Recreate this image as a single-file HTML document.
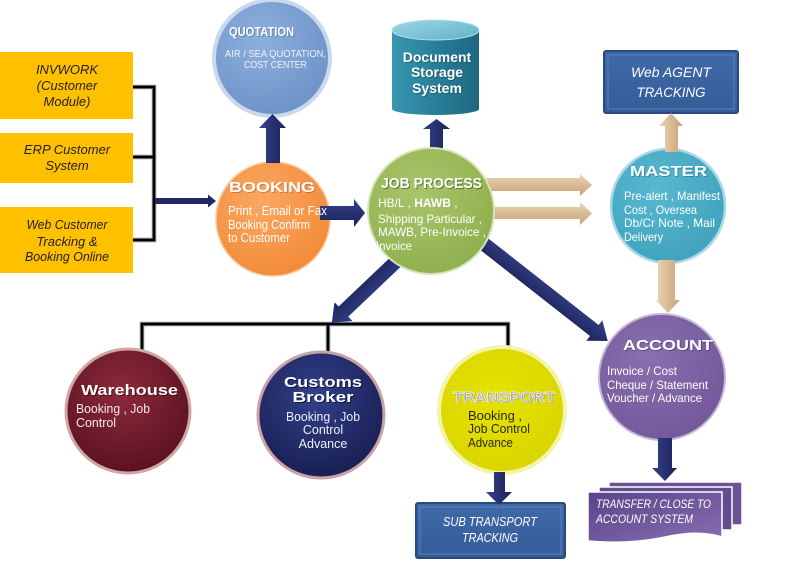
<!DOCTYPE html>
<html><head><meta charset="utf-8"><style>
html,body{margin:0;padding:0;background:#fff;}
svg{display:block;}
text{font-family:"Liberation Sans",Arial,sans-serif;}
</style></head><body>
<svg width="800" height="586" viewBox="0 0 800 586" xmlns="http://www.w3.org/2000/svg">
<defs>
<radialGradient id="gQ" cx="40%" cy="35%" r="70%"><stop offset="0" stop-color="#8db0dd"/><stop offset="1" stop-color="#6c91c6"/></radialGradient>
<radialGradient id="gB" cx="40%" cy="35%" r="70%"><stop offset="0" stop-color="#fba862"/><stop offset="1" stop-color="#f18a38"/></radialGradient>
<radialGradient id="gJ" cx="40%" cy="35%" r="70%"><stop offset="0" stop-color="#a8c56a"/><stop offset="1" stop-color="#8fb04e"/></radialGradient>
<radialGradient id="gM" cx="40%" cy="35%" r="70%"><stop offset="0" stop-color="#58b8d0"/><stop offset="1" stop-color="#40a2bd"/></radialGradient>
<radialGradient id="gA" cx="40%" cy="35%" r="70%"><stop offset="0" stop-color="#8a6fad"/><stop offset="1" stop-color="#72589a"/></radialGradient>
<radialGradient id="gW" cx="45%" cy="35%" r="70%"><stop offset="0" stop-color="#8c2a3c"/><stop offset="1" stop-color="#58101e"/></radialGradient>
<radialGradient id="gC" cx="45%" cy="35%" r="70%"><stop offset="0" stop-color="#33418c"/><stop offset="1" stop-color="#161c4e"/></radialGradient>
<radialGradient id="gT" cx="45%" cy="40%" r="70%"><stop offset="0" stop-color="#e6e200"/><stop offset="1" stop-color="#d8d300"/></radialGradient>
<linearGradient id="gN" x1="0" y1="0" x2="0" y2="1"><stop offset="0" stop-color="#34418a"/><stop offset="1" stop-color="#1c2258"/></linearGradient>
<linearGradient id="gNh" x1="0" y1="0" x2="1" y2="0"><stop offset="0" stop-color="#34418a"/><stop offset="1" stop-color="#1c2258"/></linearGradient>
<linearGradient id="gTan" x1="0" y1="0" x2="0" y2="1"><stop offset="0" stop-color="#ead4b2"/><stop offset="1" stop-color="#c6a278"/></linearGradient>
<linearGradient id="gTanH" x1="0" y1="0" x2="1" y2="0"><stop offset="0" stop-color="#ead4b2"/><stop offset="1" stop-color="#c6a278"/></linearGradient>
<linearGradient id="gCyl" x1="0" y1="0" x2="1" y2="0"><stop offset="0" stop-color="#3696b0"/><stop offset="1" stop-color="#1d6780"/></linearGradient>
<linearGradient id="gCylT" x1="0" y1="0" x2="1" y2="1"><stop offset="0" stop-color="#9ad6e6"/><stop offset="1" stop-color="#62b2c9"/></linearGradient>
<linearGradient id="gDoc" x1="0" y1="0" x2="1" y2="1"><stop offset="0" stop-color="#58448a"/><stop offset="1" stop-color="#8a6db2"/></linearGradient>
<linearGradient id="gBox" x1="0" y1="0" x2="0" y2="1"><stop offset="0" stop-color="#3f69a8"/><stop offset="1" stop-color="#355c98"/></linearGradient>
</defs>

<!-- left boxes -->
<rect x="0" y="52" width="133" height="67" fill="#ffc000"/>
<rect x="0" y="133" width="133" height="50" fill="#ffc000"/>
<rect x="0" y="207" width="133" height="66" fill="#ffc000"/>
<g font-style="italic" font-size="13" fill="#222" text-anchor="middle">
<text x="67" y="74">INVWORK</text>
<text x="67" y="90">(Customer</text>
<text x="67" y="106">Module)</text>
<text x="67" y="154">ERP Customer</text>
<text x="67" y="170">System</text>
<text x="67" y="229" textLength="81" lengthAdjust="spacingAndGlyphs">Web Customer</text>
<text x="67" y="246">Tracking &amp;</text>
<text x="67" y="261" textLength="84" lengthAdjust="spacingAndGlyphs">Booking Online</text>
</g>
<path d="M133,87 H154 V240 H133 M133,157 H154" stroke="#888" stroke-width="4.5" fill="none"/>
<path d="M133,87 H154 V240 H133 M133,157 H154" stroke="#000" stroke-width="2.5" fill="none"/>
<polygon points="155,198 208,198 208,194.5 216,201 208,207.5 208,204 155,204" fill="#222a66"/>

<!-- bottom bar connector -->
<path d="M142,352 V324 H508 V350 M328,324 V354" stroke="#888" stroke-width="4.5" fill="none"/>
<path d="M142,352 V324 H508 V350 M328,324 V354" stroke="#000" stroke-width="2.5" fill="none"/>

<!-- circles -->
<circle cx="272" cy="58" r="58" fill="url(#gQ)" stroke="#c9d8ec" stroke-width="4"/>
<circle cx="273" cy="219" r="57" fill="url(#gB)" stroke="#fbc89c" stroke-width="1.5"/>
<circle cx="668" cy="206" r="57" fill="url(#gM)" stroke="#a8d8e6" stroke-width="2.5"/>
<circle cx="662" cy="377" r="63" fill="url(#gA)" stroke="#c6b6da" stroke-width="2"/>
<circle cx="128" cy="411" r="62" fill="url(#gW)" stroke="#d2a6a6" stroke-width="3"/>
<circle cx="321" cy="415" r="63" fill="url(#gC)" stroke="#c8a2a8" stroke-width="3"/>
<circle cx="502" cy="410" r="63" fill="url(#gT)" stroke="#f4f4a8" stroke-width="4"/>

<!-- cylinder -->
<path d="M392,30 V109 A43.5,6 0 0 0 479,109 V30 Z" fill="url(#gCyl)"/>
<ellipse cx="435.5" cy="30" rx="43.5" ry="10" fill="url(#gCylT)" stroke="#b8e2ee" stroke-width="1"/>

<!-- web agent box -->
<rect x="604" y="51" width="134" height="62" rx="2" fill="url(#gBox)" stroke="#284a7e" stroke-width="2"/>
<rect x="608" y="55" width="126" height="54" fill="none" stroke="#5a80b8" stroke-width="1"/>
<!-- sub transport box -->
<rect x="416" y="503" width="149" height="55" rx="2" fill="url(#gBox)" stroke="#284a7e" stroke-width="2"/>
<rect x="420" y="507" width="141" height="47" fill="none" stroke="#5a80b8" stroke-width="1"/>

<!-- transfer docs -->
<rect x="609" y="482" width="133" height="43" fill="#6a5296" stroke="#fff" stroke-width="1.5"/>
<rect x="599" y="487" width="133" height="43" fill="#634c90" stroke="#fff" stroke-width="1.5"/>
<path d="M588,492 H722 V537 Q700,530 670,536 Q630,545 588,541 Z" fill="url(#gDoc)" stroke="#fff" stroke-width="1.5"/>

<!-- arrows -->
<polygon points="266,163 266,128 259,128 272.5,114 286,128 280,128 280,163" fill="url(#gNh)"/>
<polygon points="320,206 354,206 354,199 365,213 354,227 354,220 320,220" fill="url(#gN)"/>
<polygon points="430,160 430,129 423,129 436.5,119 450,129 443,129 443,160" fill="url(#gNh)"/>
<polygon points="480,178 580,178 580,174 592,185 580,196 580,191 480,191" fill="url(#gTan)"/>
<polygon points="480,207 580,207 580,202 592,213.5 580,225 580,219 480,219" fill="url(#gTan)"/>
<polygon points="665,152 665,126 659,126 671,113 683,126 678,126 678,152" fill="url(#gTanH)"/>
<polygon points="658,260 658,300 656,300 668,313 680,300 675,300 675,260" fill="url(#gTanH)"/>
<polygon points="658,438 658,468 652,468 665,481 677,468 672,468 672,438" fill="url(#gNh)"/>
<polygon points="494,472 494,492 486,492 499,505 512,492 505,492 505,472" fill="url(#gNh)"/>
<g transform="translate(470,233) rotate(38.1)"><polygon points="0,-7 158,-7 158,-13 175,0 158,13 158,7 0,7" fill="url(#gN)"/></g>
<g transform="translate(405,253) rotate(136.4)"><polygon points="0,-7 85,-7 85,-13 101,0 85,13 85,7 0,7" fill="url(#gN)"/></g>

<!-- job circle -->
<circle cx="431" cy="211" r="63" fill="url(#gJ)" stroke="#d6e4bc" stroke-width="2"/>

<!-- texts -->
<text x="230" y="37" font-size="13" font-weight="bold" fill="#3a5a8a" opacity="0.5" textLength="65" lengthAdjust="spacingAndGlyphs">QUOTATION</text>
<text x="229" y="36" font-size="13" font-weight="bold" fill="#fff" textLength="65" lengthAdjust="spacingAndGlyphs">QUOTATION</text>
<g font-size="10" fill="#eef2f9" text-anchor="middle">
<text x="275.5" y="57" textLength="101" lengthAdjust="spacingAndGlyphs">AIR / SEA QUOTATION,</text>
<text x="275.5" y="68" textLength="63" lengthAdjust="spacingAndGlyphs">COST  CENTER</text>
</g>

<text x="230" y="193" font-size="15" font-weight="bold" fill="#a05a20" opacity="0.5" textLength="86" lengthAdjust="spacingAndGlyphs">BOOKING</text>
<text x="229" y="192" font-size="15" font-weight="bold" fill="#fff" textLength="86" lengthAdjust="spacingAndGlyphs">BOOKING</text>
<g font-size="12.5" fill="#fff">
<text x="228" y="215" textLength="99" lengthAdjust="spacingAndGlyphs">Print , Email or Fax</text>
<text x="228" y="229" textLength="82" lengthAdjust="spacingAndGlyphs">Booking Confirm</text>
<text x="228" y="242" textLength="62" lengthAdjust="spacingAndGlyphs">to Customer</text>
</g>

<text x="382" y="189" font-size="15" font-weight="bold" fill="#3a4a20" opacity="0.6" textLength="101" lengthAdjust="spacingAndGlyphs">JOB PROCESS</text>
<text x="381" y="188" font-size="15" font-weight="bold" fill="#fff" textLength="101" lengthAdjust="spacingAndGlyphs">JOB PROCESS</text>
<g font-size="12" fill="#fff">
<text x="378" y="207">HB/L , <tspan font-weight="bold">HAWB</tspan> ,</text>
<text x="378" y="223" textLength="104" lengthAdjust="spacingAndGlyphs">Shipping Particular ,</text>
<text x="378" y="236" textLength="108" lengthAdjust="spacingAndGlyphs">MAWB, Pre-Invoice  ,</text>
<text x="376" y="250" textLength="36" lengthAdjust="spacingAndGlyphs">Invoice</text>
</g>

<g font-size="14" font-weight="bold" text-anchor="middle">
<text x="438" y="63" fill="#134a5a" opacity="0.6">Document</text>
<text x="438" y="78" fill="#134a5a" opacity="0.6">Storage</text>
<text x="438" y="94" fill="#134a5a" opacity="0.6">System</text>
<text x="437" y="62" fill="#fff">Document</text>
<text x="437" y="77" fill="#fff">Storage</text>
<text x="437" y="93" fill="#fff">System</text>
</g>

<g font-size="14" font-style="italic" fill="#fff" text-anchor="middle">
<text x="671" y="77" textLength="80" lengthAdjust="spacingAndGlyphs">Web AGENT</text>
<text x="671" y="97" textLength="69" lengthAdjust="spacingAndGlyphs">TRACKING</text>
</g>

<text x="631" y="177" font-size="15" font-weight="bold" fill="#1d6175" opacity="0.5" textLength="77" lengthAdjust="spacingAndGlyphs">MASTER</text>
<text x="630" y="176" font-size="15" font-weight="bold" fill="#fff" textLength="77" lengthAdjust="spacingAndGlyphs">MASTER</text>
<g font-size="12" fill="#fff">
<text x="624" y="200" textLength="96" lengthAdjust="spacingAndGlyphs">Pre-alert  , Manifest</text>
<text x="624" y="214" textLength="73" lengthAdjust="spacingAndGlyphs">Cost , Oversea</text>
<text x="624" y="227" textLength="91" lengthAdjust="spacingAndGlyphs">Db/Cr Note ,  Mail</text>
<text x="624" y="241" textLength="39" lengthAdjust="spacingAndGlyphs">Delivery</text>
</g>

<text x="624" y="351" font-size="15" font-weight="bold" fill="#3a2a5a" opacity="0.5" textLength="90" lengthAdjust="spacingAndGlyphs">ACCOUNT</text>
<text x="623" y="350" font-size="15" font-weight="bold" fill="#fff" textLength="90" lengthAdjust="spacingAndGlyphs">ACCOUNT</text>
<g font-size="12" fill="#fff">
<text x="607" y="375" textLength="70" lengthAdjust="spacingAndGlyphs">Invoice  / Cost</text>
<text x="607" y="389" textLength="101" lengthAdjust="spacingAndGlyphs">Cheque  / Statement</text>
<text x="607" y="402" textLength="95" lengthAdjust="spacingAndGlyphs">Voucher / Advance</text>
</g>

<g font-size="12" font-style="italic" fill="#fff">
<text x="596" y="508" textLength="115" lengthAdjust="spacingAndGlyphs">TRANSFER / CLOSE TO</text>
<text x="596" y="523" textLength="97" lengthAdjust="spacingAndGlyphs">ACCOUNT SYSTEM</text>
</g>

<text x="82" y="396" font-size="15" font-weight="bold" fill="#2a0008" opacity="0.6" textLength="97" lengthAdjust="spacingAndGlyphs">Warehouse</text>
<text x="81" y="395" font-size="15" font-weight="bold" fill="#fff" textLength="97" lengthAdjust="spacingAndGlyphs">Warehouse</text>
<g font-size="12.5" fill="#f4e8ec">
<text x="76" y="413" textLength="74" lengthAdjust="spacingAndGlyphs">Booking , Job</text>
<text x="76" y="427" textLength="40" lengthAdjust="spacingAndGlyphs">Control</text>
</g>

<g font-size="15" font-weight="bold" text-anchor="middle">
<text x="324" y="388" fill="#000" opacity="0.6" textLength="78" lengthAdjust="spacingAndGlyphs">Customs</text>
<text x="324" y="403" fill="#000" opacity="0.6" textLength="61" lengthAdjust="spacingAndGlyphs">Broker</text>
<text x="323" y="387" fill="#fff" textLength="78" lengthAdjust="spacingAndGlyphs">Customs</text>
<text x="323" y="402" fill="#fff" textLength="61" lengthAdjust="spacingAndGlyphs">Broker</text>
</g>
<g font-size="12.5" fill="#eef0f8" text-anchor="middle">
<text x="323" y="421" textLength="74" lengthAdjust="spacingAndGlyphs">Booking , Job</text>
<text x="323" y="434">Control</text>
<text x="323" y="448">Advance</text>
</g>

<text x="454" y="403" font-size="15" font-weight="bold" fill="#777" opacity="0.5" textLength="102" lengthAdjust="spacingAndGlyphs">TRANSPORT</text>
<text x="453" y="402" font-size="15" font-weight="bold" fill="#a8a8a8" stroke="#f4f4f4" stroke-width="0.7" textLength="102" lengthAdjust="spacingAndGlyphs">TRANSPORT</text>
<g font-size="12.5" fill="#2a2a10">
<text x="468" y="420" textLength="54" lengthAdjust="spacingAndGlyphs">Booking ,</text>
<text x="468" y="433" textLength="62" lengthAdjust="spacingAndGlyphs">Job Control</text>
<text x="468" y="447" textLength="45" lengthAdjust="spacingAndGlyphs">Advance</text>
</g>

<g font-size="12.5" font-style="italic" fill="#fff" text-anchor="middle">
<text x="490" y="526" textLength="94" lengthAdjust="spacingAndGlyphs">SUB TRANSPORT</text>
<text x="490" y="542" textLength="56" lengthAdjust="spacingAndGlyphs">TRACKING</text>
</g>
</svg>
</body></html>
